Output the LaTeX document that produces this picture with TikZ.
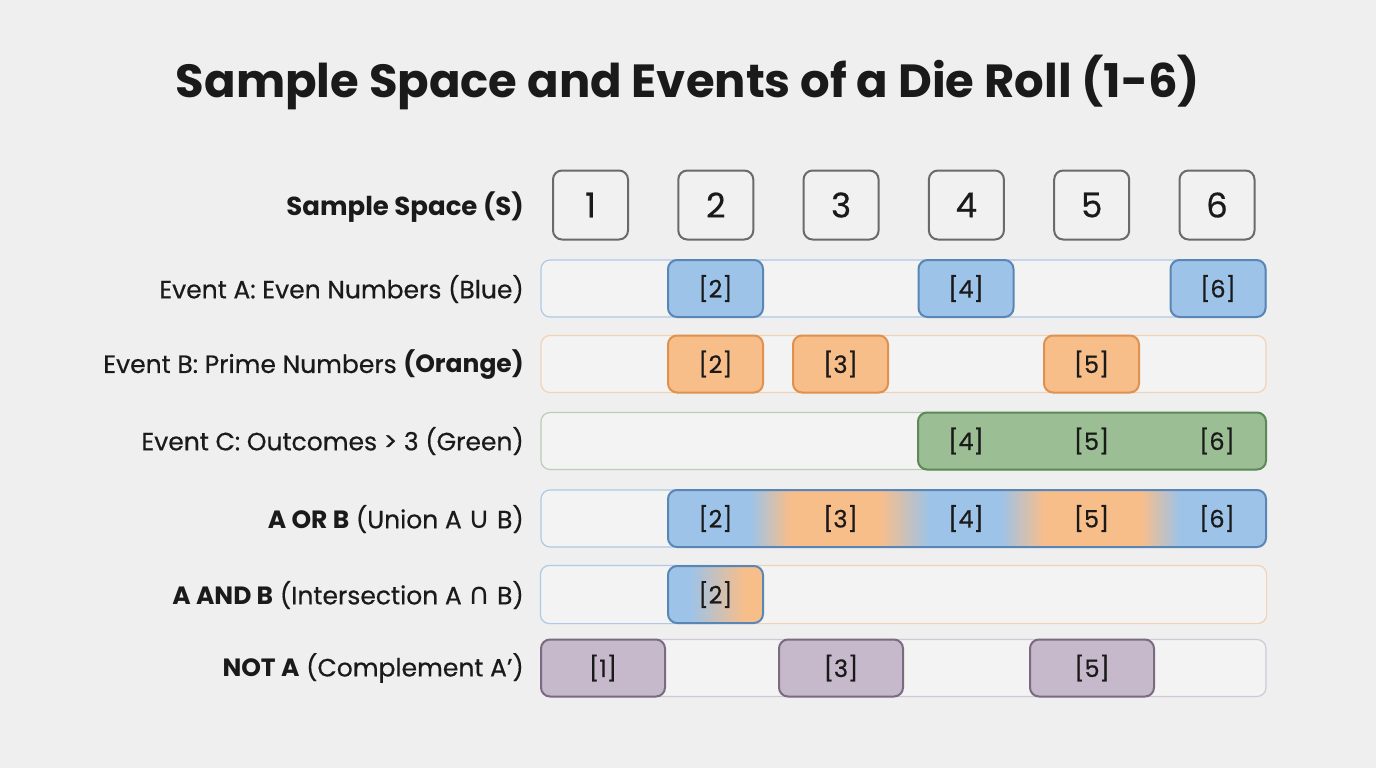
\documentclass[tikz,border=0pt]{standalone}
\usepackage{fontspec}
\setmainfont{Poppins}[UprightFeatures={FakeBold=0.5}]
\newfontfamily\symf{DejaVu Sans}
\definecolor{bg}{HTML}{EFEFEF}
\definecolor{ink}{HTML}{1A1A1A}
\definecolor{sgray}{HTML}{6A6A6A}
\definecolor{sfill}{HTML}{F1F1F1}
\definecolor{tfill}{HTML}{F3F3F3}
\definecolor{evblue}{HTML}{9DC3E8}
\definecolor{bblue}{HTML}{5A86B6}
\definecolor{lblue}{HTML}{AFC9E6}
\definecolor{evorange}{HTML}{F8BE8A}
\definecolor{borange}{HTML}{DF914D}
\definecolor{lorange}{HTML}{F2D2B5}
\definecolor{evgreen}{HTML}{9BBE95}
\definecolor{bgreen}{HTML}{5C8957}
\definecolor{lgreen}{HTML}{B8CFB3}
\definecolor{evpurple}{HTML}{C6B9CB}
\definecolor{bpurple}{HTML}{7B6B80}
\definecolor{lpurple}{HTML}{CFC8D8}
\pgfdeclarehorizontalshading{unionshade}{100bp}{color(0bp)=(evblue); color(31.9bp)=(evblue); color(35.2bp)=(evorange); color(42.7bp)=(evorange); color(46.9bp)=(evblue); color(52.8bp)=(evblue); color(56.5bp)=(evorange); color(64.5bp)=(evorange); color(67.8bp)=(evblue); color(100bp)=(evblue)}
\pgfdeclarehorizontalshading{intershade}{100bp}{color(0bp)=(evblue); color(36.5bp)=(evblue); color(65.5bp)=(evorange); color(100bp)=(evorange)}
\newcommand{\labfont}{\fontsize{25}{25}\selectfont}
\newcommand{\evfont}{\fontsize{24}{24}\selectfont}
\newcommand{\bigsym}[1]{{\symf\fontsize{30}{30}\selectfont #1}}
\tikzset{
  sbox/.style={draw=sgray, line width=2pt, fill=sfill, rounded corners=9pt, minimum width=75pt, minimum height=69pt, inner sep=0pt, font=\fontsize{34}{34}\selectfont, text=ink},
  track/.style={line width=1.2pt, fill=tfill, rounded corners=9pt, minimum width=725pt, minimum height=57pt, inner sep=0pt},
  ev/.style={line width=2pt, rounded corners=9pt, minimum height=57pt, minimum width=95pt, inner sep=0pt, font=\evfont, text=ink},
  evtext/.style={font=\evfont, text=ink, inner sep=0pt},
  lbl/.style={anchor=east, font=\labfont, text=ink, inner sep=0pt},
}
\begin{document}
\begin{tikzpicture}[x=1pt,y=-1pt]
\useasboundingbox (0,0) rectangle (1376,768);
\fill[bg] (0,0) rectangle (1376,768);
\node[font=\fontsize{46.5}{46.5}\selectfont\bfseries, text=ink, inner sep=0pt] (title) at (688,82) {Sample Space and Events of a Die Roll (1-6)};
% row labels
\node[lbl] (l0) at (524,207) {\bfseries\fontsize{26}{26}\selectfont Sample Space (S)};
\node[lbl] (l1) at (524,289) {Event A: Even Numbers (Blue)};
\node[lbl] (l2) at (524,365) {Event B: Prime Numbers \textbf{(Orange)}};
\node[lbl] (l3) at (524,441) {Event C: Outcomes > 3 (Green)};
\node[lbl] (l4) at (524,519) {\textbf{A OR B} (Union A \bigsym{∪} B)};
\node[lbl] (l5) at (524,595) {\textbf{A AND B} (Intersection A \bigsym{∩} B)};
\node[lbl] (l6) at (524,668) {\textbf{NOT A} (Complement A’)};
% sample space
\node[sbox] (s1) at (590.5,205) {1};
\node[sbox] (s2) at (715.8,205) {2};
\node[sbox] (s3) at (841.1,205) {3};
\node[sbox] (s4) at (966.4,205) {4};
\node[sbox] (s5) at (1091.7,205) {5};
\node[sbox] (s6) at (1217,205) {6};
% tracks
\node[track, draw=lblue] (tA) at (903.5,288.5) {};
\node[track, draw=lorange] (tB) at (903.5,364) {};
\node[track, draw=lgreen] (tC) at (903.5,441) {};
\node[track, draw=lblue] (tU) at (903.5,518.5) {};
\node[track] (tI) at (903.5,594.5) {};
\begin{scope}
\clip (500,550) rectangle (715,640);
\draw[lblue, line width=1.2pt, rounded corners=9pt] (tI.south west) rectangle (tI.north east);
\end{scope}
\begin{scope}
\clip (715,550) rectangle (1300,640);
\draw[lorange, line width=1.2pt, rounded corners=9pt] (tI.south west) rectangle (tI.north east);
\end{scope}
\node[track, draw=lpurple] (tN) at (903.5,668) {};
% event A
\node[ev, draw=bblue, fill=evblue] (a2) at (715.5,288.5) {[2]};
\node[ev, draw=bblue, fill=evblue] (a4) at (966,288.5) {[4]};
\node[ev, draw=bblue, fill=evblue] (a6) at (1218,288.5) {[6]};
% event B
\node[ev, draw=borange, fill=evorange] (b2) at (715.5,364) {[2]};
\node[ev, draw=borange, fill=evorange] (b3) at (840.5,364) {[3]};
\node[ev, draw=borange, fill=evorange] (b5) at (1091.5,364) {[5]};
% event C
\node[ev, draw=bgreen, fill=evgreen, minimum width=348pt] (cbox) at (1092,441) {};
\node[evtext] (c4) at (966,441) {[4]};
\node[evtext] (c5) at (1091.5,441) {[5]};
\node[evtext] (c6) at (1217,441) {[6]};
% union
\node[ev, draw=bblue, shading=unionshade, minimum width=598pt] (ubox) at (967,518.5) {};
\node[evtext] (u2) at (715.5,518.5) {[2]};
\node[evtext] (u3) at (840.5,518.5) {[3]};
\node[evtext] (u4) at (966,518.5) {[4]};
\node[evtext] (u5) at (1091.5,518.5) {[5]};
\node[evtext] (u6) at (1217,518.5) {[6]};
% intersection
\node[ev, draw=bblue, shading=intershade] (i2) at (715.5,594.5) {[2]};
% not A
\node[ev, draw=bpurple, fill=evpurple, minimum width=124pt] (n1) at (603,668) {[1]};
\node[ev, draw=bpurple, fill=evpurple, minimum width=124pt] (n3) at (841,668) {[3]};
\node[ev, draw=bpurple, fill=evpurple, minimum width=124pt] (n5) at (1092,668) {[5]};
\end{tikzpicture}
\end{document}
